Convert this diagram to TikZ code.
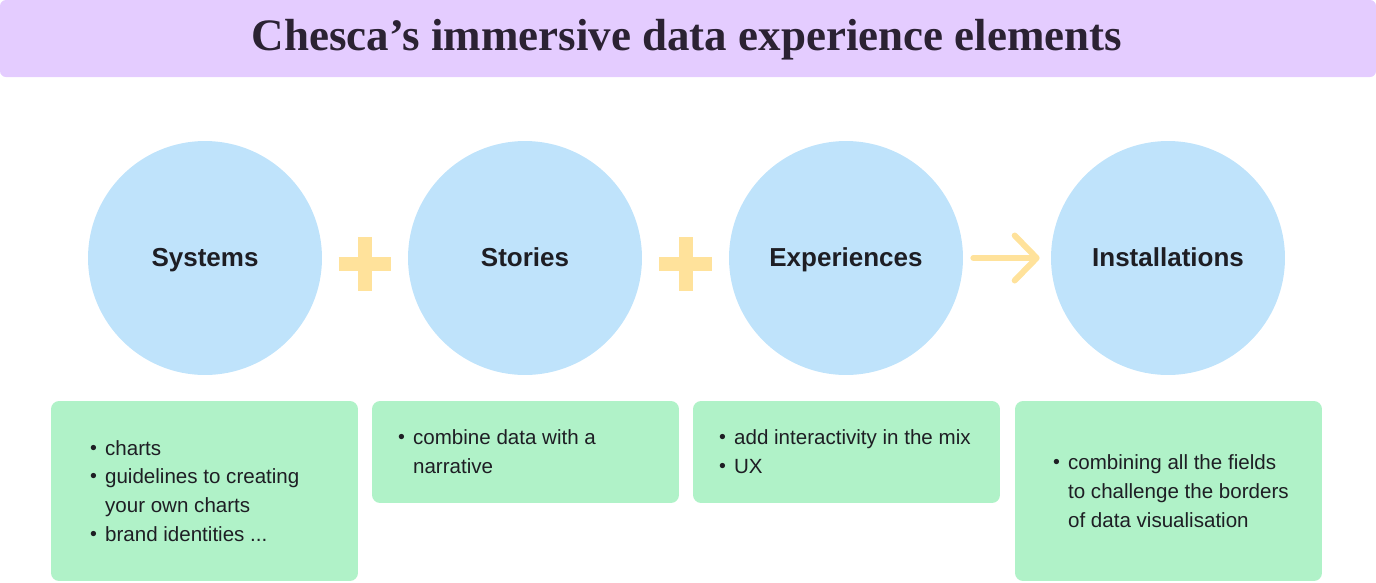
\documentclass[tikz,border=0pt]{standalone}
\usepackage{fontspec}
\setmainfont{Liberation Sans}
\newfontfamily\titlefont{Liberation Serif}
\usetikzlibrary{arrows.meta}
\definecolor{cBand} {RGB}{228, 204, 255}
\definecolor{cTitle}{RGB}{43,  34,  51}
\definecolor{cCirc} {RGB}{191, 227, 251}
\definecolor{cList} {RGB}{176, 242, 200}
\definecolor{cPlus} {RGB}{255, 226, 155}
\definecolor{cText} {RGB}{30,  30,  36}
\newcommand{\bulitem}{\makebox[8.6pt][l]{\raisebox{0.1ex}{\scalebox{0.95}{\textbullet}}}}
\newcommand{\bulcont}{\hspace*{8.6pt}}
\tikzset{
  circ/.style  = {circle, fill=cCirc, minimum size=4.68cm, inner sep=0pt,
                  text height=2.2ex, text depth=0.35ex,
                  font=\fontsize{14.8}{17}\selectfont\bfseries, text=cText},
  listB/.style = {fill=cList, rounded corners=0.16cm, minimum width=6.14cm,
                  inner sep=0pt},
  itemT/.style = {anchor=west, align=left, text=cText, inner sep=0pt,
                  font=\fontsize{11.7}{16.4}\selectfont},
  plusL/.style = {cPlus, line width=0.28cm},
  A/.style     = {-{Straight Barb[length=0.44cm, width=0.9cm,
                  line cap=round, line join=round]},
                  cPlus, line width=0.12cm, line cap=round},
}

\begin{document}
\begin{tikzpicture}[x=0.02cm, y=-0.02cm]
\useasboundingbox (0,0) rectangle (1376,582);

%% ─── Title ───────────────────────────────────────────────────────
\fill[cBand, rounded corners=0.12cm] (0,0) rectangle (1376,77);
\node[font=\titlefont\fontsize{25.6}{30}\selectfont\bfseries, text=cTitle]
  (title) at (687,40) {Chesca’s immersive data experience elements};

%% ════════════════════════════════════════════
%%  Circles
%% ════════════════════════════════════════════
\node[circ] (sys) at (205,258)  {Systems};
\node[circ] (sto) at (525,258)  {Stories};
\node[circ] (exp) at (846,258)  {Experiences};
\node[circ] (ins) at (1168,258) {Installations};

%% plus signs between circles
\path (sys) -- (sto) coordinate[pos=0.5] (p1);
\path (sto) -- (exp) coordinate[pos=0.5] (p2);
\foreach \p in {p1,p2}{
  \draw[plusL] ([xshift=-0.53cm, yshift=-0.12cm]\p) -- ([xshift=0.53cm, yshift=-0.12cm]\p);
  \draw[plusL] ([yshift=0.42cm]\p) -- ([yshift=-0.66cm]\p);
}

%% arrow to installations
\draw[A, shorten <=0.2cm, shorten >=0.22cm] (exp) -- (ins);

%% ════════════════════════════════════════════
%%  Lists
%% ════════════════════════════════════════════
\node[listB, minimum height=3.6cm]  (sysL) at (204.5,491) {};
\node[listB, minimum height=2.04cm] (stoL) at (525.5,452) {};
\node[listB, minimum height=2.04cm] (expL) at (846.5,452) {};
\node[listB, minimum height=3.6cm]  (insL) at (1168.5,491) {};

\node[itemT] (sysT) at ([xshift=0.78cm]sysL.west)
  {\bulitem charts\\
   \bulitem guidelines to creating\\
   \bulcont your own charts\\
   \bulitem brand identities ...};
\node[itemT] (stoT) at ([xshift=0.52cm]stoL.west)
  {\bulitem combine data with a\\
   \bulcont narrative};
\node[itemT] (expT) at ([xshift=0.52cm]expL.west)
  {\bulitem add interactivity in the mix\\
   \bulitem UX};
\node[itemT] (insT) at ([xshift=0.76cm]insL.west)
  {\bulitem combining all the fields\\
   \bulcont to challenge the borders\\
   \bulcont of data visualisation};

\end{tikzpicture}
\end{document}
